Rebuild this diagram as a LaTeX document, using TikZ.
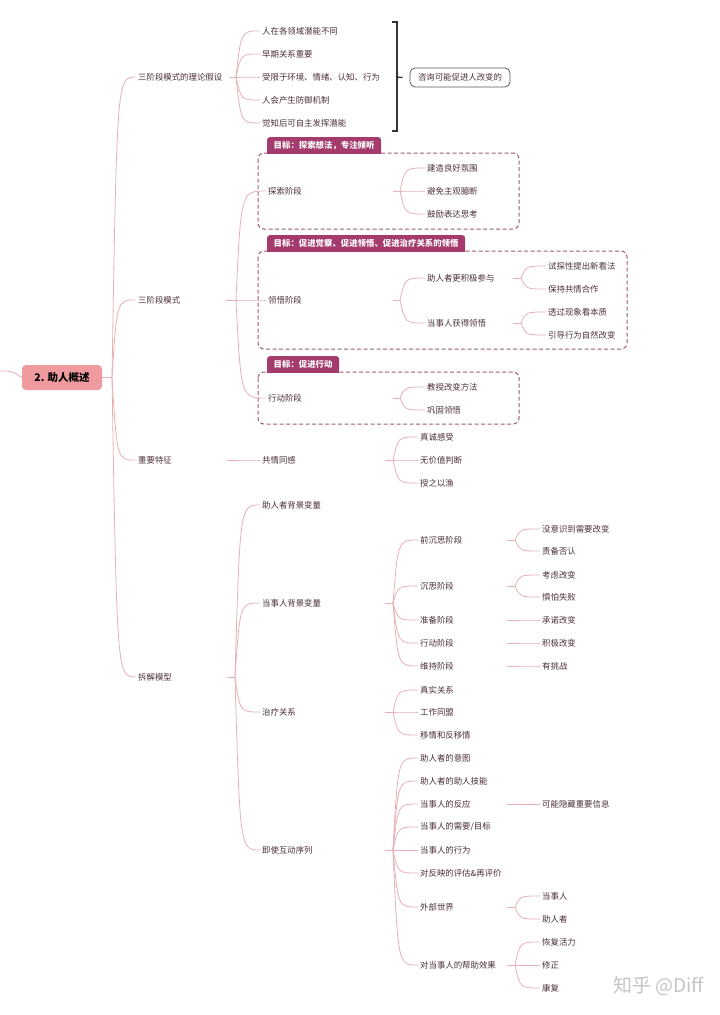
\documentclass[tikz,border=0pt]{standalone}
\usepackage{fontspec}
\setmainfont{Noto Sans CJK SC}
\usetikzlibrary{calc,backgrounds}
\definecolor{txtc}{HTML}{4A2E34}
\definecolor{linec}{HTML}{E6B0B6}
\definecolor{boxc}{HTML}{9C5A78}
\definecolor{tabc}{HTML}{A53B6D}
\definecolor{rootc}{HTML}{EE9A9E}
\definecolor{wmc}{HTML}{C4C4C4}
\tikzset{
 lbl/.style={anchor=west, inner sep=2pt, text=txtc, font=\fontsize{8.4}{10}\selectfont},
 conn/.style={draw=linec, line width=0.8pt},
 dbox/.style={draw=boxc, line width=1pt, dash pattern=on 4pt off 2.5pt, rounded corners=6pt},
 tabn/.style={anchor=south west, text=white, font=\bfseries\fontsize{8.4}{10}\selectfont, inner xsep=6.5pt, inner ysep=0pt, minimum height=15.5pt},
 rootn/.style={fill=rootc, rounded corners=4pt, minimum width=80pt, minimum height=25pt, font=\bfseries\fontsize{10.5}{12}\selectfont, text=black, inner sep=0pt},
 sumbox/.style={draw=black!65, line width=0.8pt, rounded corners=5pt, minimum width=100pt, minimum height=19pt, inner sep=0pt, text=txtc, font=\fontsize{8.4}{10}\selectfont},
 brk/.style={draw=black!80, line width=1.3pt},
 wmark/.style={font=\fontsize{19}{20}\selectfont, text=wmc, anchor=east, inner sep=0pt}
}
\newcommand\fan[4]{%
  \draw[conn] (#2,0 |- #1.east) -- (#3,0 |- #1.east) coordinate (bp);
  \foreach \c in {#4}{\draw[conn] (bp) .. controls ($(bp |- \c.west)+(5,0)$) .. (\c.west);}
}
\newcommand\tabfill[1]{%
  \begin{pgfonlayer}{background}
  \begin{scope}
  \clip (#1.south west) rectangle (#1.north east);
  \fill[tabc, rounded corners=3pt] ([yshift=-5pt]#1.south west) rectangle (#1.north east);
  \end{scope}
  \end{pgfonlayer}
}
\begin{document}
\begin{tikzpicture}[x=1pt,y=-1pt]
\useasboundingbox (0,0) rectangle (720,1015);
% root
\node[rootn] (root) at (62,377.5) {2. 助人概述};
\coordinate (rin) at (0,371);
\draw[conn] (rin) .. controls (12,371) .. (root.west);
% level 1
\node[lbl] (A) at (136,77) {三阶段模式的理论假设};
\node[lbl] (B) at (136,300) {三阶段模式};
\node[lbl] (C) at (136,460) {重要特征};
\node[lbl] (D) at (136,677) {拆解模型};
\fan{root}{102}{112}{A,B,C,D}
% A
\node[lbl] (A1) at (260,31) {人在各领域潜能不同};
\node[lbl] (A2) at (260,54) {早期关系重要};
\node[lbl] (A3) at (260,77) {受限于环境、情绪、认知、行为};
\node[lbl] (A4) at (260,100) {人会产生防御机制};
\node[lbl] (A5) at (260,123) {觉知后可自主发挥潜能};
\fan{A}{230}{236}{A1,A2,A3,A4,A5}
\draw[brk] (392,22) -- (397,22) -- (397,131) -- (392,131);
\coordinate (btick) at (397,77);
\node[sumbox] (S) at (460,77.5) {咨询可能促进人改变的};
\draw[brk] (btick) -- ([xshift=-7pt]S.west);
% B boxes
\begin{pgfonlayer}{background}
\draw[dbox] (258,153) rectangle (519,229);
\draw[dbox] (258,251) rectangle (627,349);
\draw[dbox] (258,372) rectangle (519,424);
\end{pgfonlayer}
\node[tabn] (T1) at (267,153) {目标：探索想法，专注倾听};
\node[tabn] (T2) at (267,251) {目标：促进觉察、促进领悟、促进治疗关系的领悟};
\node[tabn] (T3) at (267,372) {目标：促进行动};
\tabfill{T1}\tabfill{T2}\tabfill{T3}
\node[lbl] (B1) at (266,191) {探索阶段};
\node[lbl] (B2) at (266,300) {领悟阶段};
\node[lbl] (B3) at (266,398) {行动阶段};
\fan{B}{226}{236}{B1,B2,B3}
\node[lbl] (B11) at (425,168) {建造良好氛围};
\node[lbl] (B12) at (425,191) {避免主观臆断};
\node[lbl] (B13) at (425,214) {鼓励表达思考};
\fan{B1}{393}{400}{B11,B12,B13}
\node[lbl] (B21) at (425,278) {助人者更积极参与};
\node[lbl] (B22) at (425,323) {当事人获得领悟};
\fan{B2}{393}{400}{B21,B22}
\node[lbl] (B211) at (546,266) {试探性提出新看法};
\node[lbl] (B212) at (546,289) {保持共情合作};
\fan{B21}{513}{521}{B211,B212}
\node[lbl] (B221) at (546,312) {透过现象看本质};
\node[lbl] (B222) at (546,335) {引导行为自然改变};
\fan{B22}{513}{521}{B221,B222}
\node[lbl] (B31) at (425,387) {教授改变方法};
\node[lbl] (B32) at (425,410) {巩固领悟};
\fan{B3}{393}{400}{B31,B32}
% C
\node[lbl] (C1) at (260,460) {共情同感};
\fan{C}{227}{235}{C1}
\node[lbl] (C11) at (418,437) {真诚感受};
\node[lbl] (C12) at (418,460) {无价值判断};
\node[lbl] (C13) at (418,483) {授之以渔};
\fan{C1}{385}{393}{C11,C12,C13}
% D
\node[lbl] (D1) at (260,505) {助人者背景变量};
\node[lbl] (D2) at (260,603) {当事人背景变量};
\node[lbl] (D3) at (260,712) {治疗关系};
\node[lbl] (D4) at (260,850) {即使互动序列};
\fan{D}{227}{235}{D1,D2,D3,D4}
\node[lbl] (D21) at (418,540) {前沉思阶段};
\node[lbl] (D22) at (418,586) {沉思阶段};
\node[lbl] (D23) at (418,620) {准备阶段};
\node[lbl] (D24) at (418,643) {行动阶段};
\node[lbl] (D25) at (418,666) {维持阶段};
\fan{D2}{385}{393}{D21,D22,D23,D24,D25}
\node[lbl] (D211) at (540,529) {没意识到需要改变};
\node[lbl] (D212) at (540,551) {责备否认};
\fan{D21}{507}{515}{D211,D212}
\node[lbl] (D221) at (540,575) {考虑改变};
\node[lbl] (D222) at (540,597) {惧怕失败};
\fan{D22}{507}{515}{D221,D222}
\node[lbl] (D231) at (540,620) {承诺改变};
\fan{D23}{507}{515}{D231}
\node[lbl] (D241) at (540,643) {积极改变};
\fan{D24}{507}{515}{D241}
\node[lbl] (D251) at (540,666) {有挑战};
\fan{D25}{507}{515}{D251}
\node[lbl] (D31) at (418,690) {真实关系};
\node[lbl] (D32) at (418,712) {工作同盟};
\node[lbl] (D33) at (418,735) {移情和反移情};
\fan{D3}{385}{393}{D31,D32,D33}
\node[lbl] (D41) at (418,758) {助人者的意图};
\node[lbl] (D42) at (418,781) {助人者的助人技能};
\node[lbl] (D43) at (418,804) {当事人的反应};
\node[lbl] (D44) at (418,827) {当事人的需要/目标};
\node[lbl] (D45) at (418,850) {当事人的行为};
\node[lbl] (D46) at (418,873) {对反映的评估\&再评价};
\node[lbl] (D47) at (418,907) {外部世界};
\node[lbl] (D48) at (418,965) {对当事人的帮助效果};
\fan{D4}{385}{393}{D41,D42,D43,D44,D45,D46,D47,D48}
\node[lbl] (D431) at (540,804) {可能隐藏重要信息};
\fan{D43}{507}{515}{D431}
\node[lbl] (D471) at (540,896) {当事人};
\node[lbl] (D472) at (540,919) {助人者};
\fan{D47}{507}{515}{D471,D472}
\node[lbl] (D481) at (540,942) {恢复活力};
\node[lbl] (D482) at (540,965) {修正};
\node[lbl] (D483) at (540,988) {康复};
\fan{D48}{507}{515}{D481,D482,D483}
% watermark
\node[wmark] (wm) at (704,986) {知乎 @Diff};
\end{tikzpicture}
\end{document}
